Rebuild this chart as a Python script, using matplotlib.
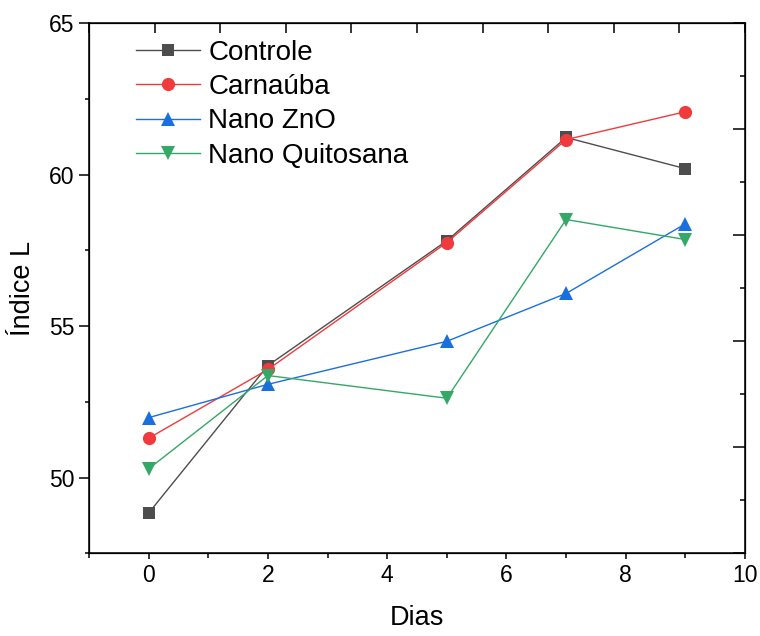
import matplotlib
matplotlib.use("Agg")
import matplotlib.pyplot as plt
from matplotlib.ticker import MultipleLocator

plt.rcParams['font.family'] = ['Liberation Sans', 'DejaVu Sans']

dias = [0, 2, 5, 7, 9]
controle = [48.83, 53.70, 57.82, 61.23, 60.20]
carnauba = [51.30, 53.57, 57.76, 61.16, 62.08]
nano_zno = [51.98, 53.08, 54.50, 56.08, 58.38]
nano_quitosana = [50.29, 53.37, 52.62, 58.52, 57.86]

labels = ["Controle", "Carnaúba", "Nano ZnO", "Nano Quitosana"]
colors = ["#4d4d4d", "#ef3b3d", "#1a6fdf", "#33a867"]
markers = ["s", "o", "^", "v"]
msizes = [8, 9.5, 10.5, 10.5]

fig = plt.figure(figsize=(7.6, 6.36), dpi=100)
ax = fig.add_axes([0.1171, 0.130, 0.8632, 0.8334])

for y, lab, c, m, ms in zip([controle, carnauba, nano_zno, nano_quitosana], labels, colors, markers, msizes):
    ax.plot(dias, y, color=c, marker=m, markersize=ms, linewidth=1.0, label=lab,
            markeredgewidth=0)

ax.set_xlim(-1, 10)
ax.set_ylim(47.5, 65)
ax.xaxis.set_major_locator(MultipleLocator(2))
ax.xaxis.set_minor_locator(MultipleLocator(1))
ax.yaxis.set_major_locator(MultipleLocator(5))
ax.yaxis.set_minor_locator(MultipleLocator(2.5))
ax.tick_params(axis='both', which='major', direction='out', labelsize=16.5, width=1.1)
ax.tick_params(axis='y', which='major', length=7)
ax.tick_params(axis='y', which='minor', length=3, width=1.1, direction='out')
ax.tick_params(axis='x', which='major', length=4)
ax.tick_params(axis='x', which='minor', length=3.5, width=1.1, direction='out')
for s in ax.spines.values():
    s.set_linewidth(1.1)

ax.set_xlabel("Dias", fontsize=19.5, labelpad=13)
ax.set_ylabel("Índice L", fontsize=19.5, labelpad=9)

# top axis (own scale, no labels)
axt = ax.twiny()
axt.set_xlim(0, 10)
axt.xaxis.set_major_locator(MultipleLocator(1))
axt.tick_params(axis='x', which='major', direction='in', length=7, width=1.1,
                labeltop=False, top=True, bottom=False)
# right axis (own scale, no labels)
axr = ax.twinx()
axr.set_ylim(0, 10)
axr.yaxis.set_major_locator(MultipleLocator(2))
axr.yaxis.set_minor_locator(MultipleLocator(1))
axr.tick_params(axis='y', which='major', direction='in', length=8.5, width=1.1,
                labelright=False, right=True, left=False)
axr.tick_params(axis='y', which='minor', direction='in', length=3.5, width=1.1,
                right=True, left=False)

ax.legend(loc='upper left', bbox_to_anchor=(0.055, 0.99), frameon=False, fontsize=20,
          handlelength=2.3, handletextpad=0.3, labelspacing=0.3, borderaxespad=0)

fig.savefig("out.png", dpi=100)
